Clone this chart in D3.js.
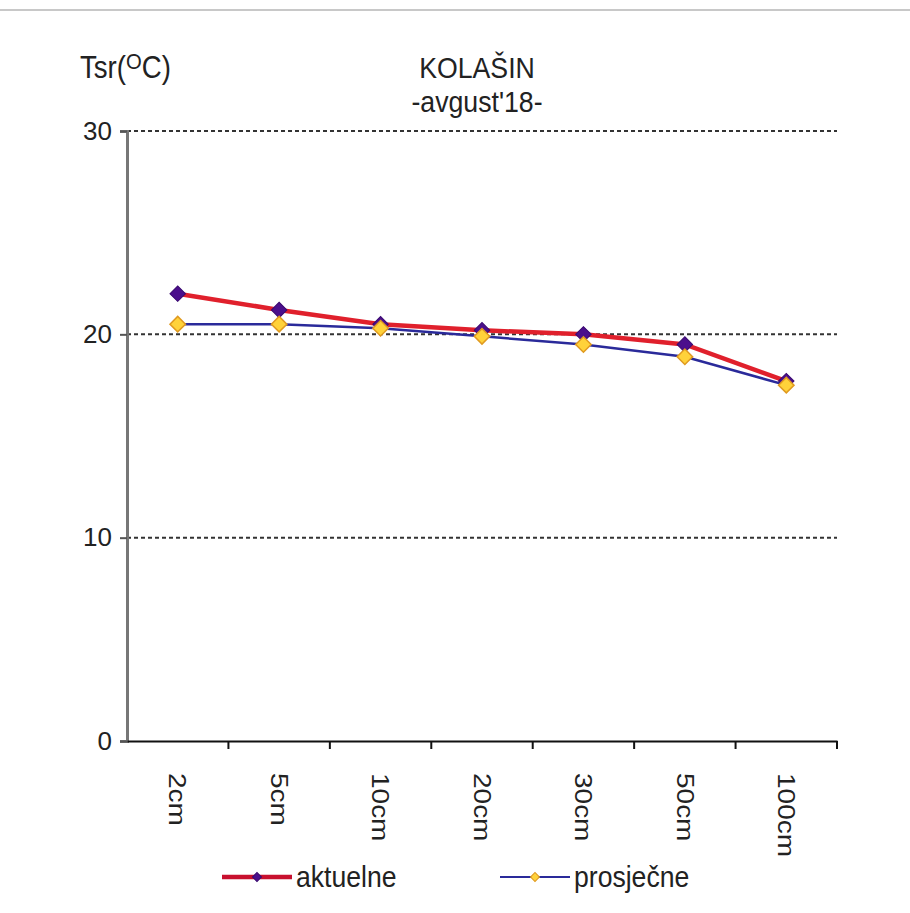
<!DOCTYPE html>
<html>
<head>
<meta charset="utf-8">
<script src="https://cdn.jsdelivr.net/npm/d3@7"></script>
<style>
  body { margin: 0; background: #fff; }
  svg text { font-family: "Liberation Sans", Arial, sans-serif; fill: #222; }
</style>
</head>
<body>
<svg id="chart" width="910" height="913"></svg>
<script>
var categories = ["2cm", "5cm", "10cm", "20cm", "30cm", "50cm", "100cm"];
var aktuelne = [22.0, 21.2, 20.5, 20.2, 20.0, 19.5, 17.7];
var prosjecne = [20.5, 20.5, 20.3, 19.9, 19.5, 18.9, 17.5];
var yTicks = [0, 10, 20, 30];

var svg = d3.select("#chart");

// page border line at top
svg.append("line")
  .attr("x1", 0).attr("x2", 910).attr("y1", 10).attr("y2", 10)
  .attr("stroke", "#c8c8c8").attr("stroke-width", 2);

var mLeft = 127, mRight = 837, mTop = 131, mBottom = 741;

var x = d3.scaleBand().domain(categories).range([mLeft, mRight]);
var y = d3.scaleLinear().domain([0, 30]).range([mBottom, mTop]);

// grid
svg.append("g").selectAll("line")
  .data(yTicks.filter(function(d) { return d > 0; }))
  .enter().append("line")
  .attr("x1", mLeft).attr("x2", mRight)
  .attr("y1", function(d) { return y(d); })
  .attr("y2", function(d) { return y(d); })
  .attr("stroke", "#333").attr("stroke-width", 2)
  .attr("stroke-dasharray", "4,3");

// y axis
var yAxis = svg.append("g")
  .attr("transform", "translate(" + mLeft + ",0)")
  .call(d3.axisLeft(y).tickValues(yTicks).tickSize(7).tickPadding(8));
yAxis.select(".domain").attr("stroke", "#777").attr("stroke-width", 3);
yAxis.selectAll(".tick line").attr("stroke", "#555").attr("stroke-width", 2);
yAxis.selectAll("text").style("font-size", "26px").attr("fill", "#222")
  .style("font-family", "'Liberation Sans', Arial, sans-serif");

// x axis
var xAxis = svg.append("g")
  .attr("transform", "translate(0," + mBottom + ")")
  .call(d3.axisBottom(x).tickSize(0));
xAxis.select(".domain").attr("stroke", "#111").attr("stroke-width", 2);
xAxis.selectAll(".tick line").remove();
xAxis.selectAll(".tick text")
  .style("font-size", "28px")
  .style("font-family", "'Liberation Sans', Arial, sans-serif")
  .attr("text-anchor", "start")
  .attr("transform", "translate(0,32) rotate(90) scale(1,0.85)")
  .attr("x", 0).attr("y", 0).attr("dy", "0.35em");

// x tick marks at band edges
var edges = categories.map(function(c) { return x(c); }).concat([mRight]);
svg.append("g").selectAll("line")
  .data(edges.slice(1))
  .enter().append("line")
  .attr("x1", function(d) { return d; }).attr("x2", function(d) { return d; })
  .attr("y1", mBottom).attr("y2", mBottom + 8)
  .attr("stroke", "#111").attr("stroke-width", 2);

var cx = function(d, i) { return x(categories[i]) + x.bandwidth() / 2; };
var line = d3.line().x(cx).y(function(d) { return y(d); });
var diamond = d3.symbol().type(d3.symbolSquare).size(120);

// prosjecne
svg.append("path").datum(prosjecne)
  .attr("d", line).attr("fill", "none")
  .attr("stroke", "#2a2a9a").attr("stroke-width", 2.5);

// aktuelne
svg.append("path").datum(aktuelne)
  .attr("d", line).attr("fill", "none")
  .attr("stroke", "#e0202c").attr("stroke-width", 4.5);

svg.append("g").selectAll("path")
  .data(aktuelne).enter().append("path")
  .attr("d", diamond)
  .attr("transform", function(d, i) { return "translate(" + cx(d, i) + "," + y(d) + ") rotate(45)"; })
  .attr("fill", "#4b0f8c").attr("stroke", "#3a0a70").attr("stroke-width", 1);

svg.append("g").selectAll("path")
  .data(prosjecne).enter().append("path")
  .attr("d", diamond)
  .attr("transform", function(d, i) { return "translate(" + cx(d, i) + "," + y(d) + ") rotate(45)"; })
  .attr("fill", "#ffd23a").attr("stroke", "#e09a20").attr("stroke-width", 1.5);

// titles
svg.append("text").attr("transform", "translate(477,78) scale(0.92,1.02)")
  .attr("text-anchor", "middle").style("font-size", "29px").text("KOLAŠIN");
svg.append("text").attr("transform", "translate(477,112) scale(0.92,1.02)")
  .attr("text-anchor", "middle").style("font-size", "29px").text("-avgust'18-");

var yl = svg.append("text").attr("transform", "translate(80,78) scale(0.92,1.02)")
  .style("font-size", "30px");
yl.append("tspan").text("Tsr(");
yl.append("tspan").attr("dy", -9).style("font-size", "22px").text("O");
yl.append("tspan").attr("dy", 9).text("C)");

// legend
var legend = [
  {name: "aktuelne", x: 222, stroke: "#c8102e", sw: 4.5, fill: "#4b0f8c", ms: "#3a0a70"},
  {name: "prosječne", x: 500, stroke: "#2a2a9a", sw: 2, fill: "#ffd23a", ms: "#e09a20"}
];
var lg = svg.append("g").selectAll("g").data(legend).enter().append("g")
  .attr("transform", function(d) { return "translate(" + d.x + ",877)"; });
lg.append("line").attr("x1", 0).attr("x2", 70).attr("y1", 0).attr("y2", 0)
  .attr("stroke", function(d) { return d.stroke; })
  .attr("stroke-width", function(d) { return d.sw; });
lg.append("path").attr("d", d3.symbol().type(d3.symbolSquare).size(40))
  .attr("transform", "translate(35,0) rotate(45)")
  .attr("fill", function(d) { return d.fill; })
  .attr("stroke", function(d) { return d.ms; });
lg.append("text").attr("transform", "translate(74,10) scale(0.95,1.05)")
  .style("font-size", "28px")
  .text(function(d) { return d.name; });
</script>
</body>
</html>
